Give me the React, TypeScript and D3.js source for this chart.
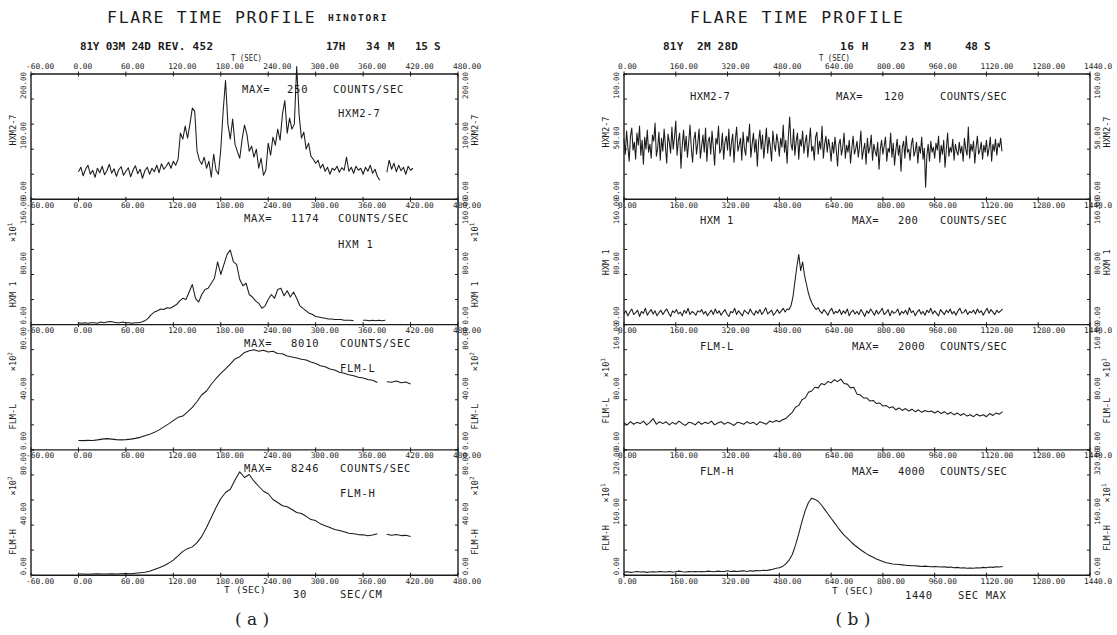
import React from "react";
import * as d3 from "d3";

const FONT = "'DejaVu Sans Mono','Liberation Mono',monospace";
const SERIF = "'DejaVu Serif','Liberation Serif',serif";
const INK = "#1b1b1b";

// ================= DATA : (a) 81Y 03M 24D  REV.452 =================
const A_X_TICKS = [-60, 0, 60, 120, 180, 240, 300, 360, 420, 480];
const A_X_LABELS = ["-60.00", "0.00", "60.00", "120.00", "180.00", "240.00", "300.00", "360.00", "420.00", "480.00"];
const A_NAMES = ["HXM2-7", "HXM 1", "FLM-L", "FLM-H"];
const A_MAX = ["250", "1174", "8010", "8246"];
const A_EXP = ["", "1", "2", "2"];
const A_Y_MAX = [250, 200, 100, 100];
const A_Y_STEP = [50, 40, 20, 20];
const A_Y_LABELS = [[0, 100, 200], [0, 80, 160], [0, 40, 80], [0, 40, 80]];

// HXM2-7, every 3 s from t = 0
const A_HXM27 = [
  55, 64, 47, 60, 68, 50, 58, 44, 62, 53,
  66, 49, 57, 70, 52, 61, 46, 59, 65, 48,
  56, 63, 45, 58, 67, 51, 60, 42, 57, 64,
  50, 62, 55, 68, 53, 71, 60, 66, 74, 62,
  76, 68, 80, 132, 120, 146, 122, 150, 182, 176,
  96, 78, 70, 84, 62, 76, 44, 90, 58, 50,
  100, 176, 237, 150, 120, 160, 110, 95, 82, 120,
  148, 130, 96, 106, 84, 100, 62, 82, 48, 58,
  112, 88, 124, 108, 140, 118, 170, 197, 132, 162,
  140, 150, 265, 170, 122, 134, 100, 112, 86, 80,
  72, 78, 62, 70, 56, 64, 50, 62, 58, 66,
  54, 63, 58, 84, 56, 64, 52, 66, 58, 62,
  50, 64, 56, 68, 52, 60, 46, 38, null, null,
  54, 78, 60, 72, 55, 68, 57, 64, 50, 66,
  58, 62,
];
// HXM 1 (x10), every 4 s from t = 0
const A_HXM1 = [
  3, 2, 3, 2, 3, 3, 2, 4, 3, 4,
  5, 4, 3, 3, 4, 3, 3, 2, 3, 3,
  4, 6, 10, 16, 20, 22, 25, 24, 27, 26,
  29, 32, 38, 42, 40, 52, 64, 42, 36, 48,
  56, 58, 66, 74, 100, 80, 96, 112, 119, 100,
  96, 72, 62, 66, 48, 44, 38, 34, 26, 30,
  40, 48, 42, 56, 58, 46, 54, 44, 52, 42,
  30, 26, 22, 18, 16, 13, 12, 11, 10, 9,
  9, 8, 8, 8, 7, 7, 7, 6, null, null,
  7, 7, 6, 7, 6, 7, 6, 7,
];
// FLM-L (x10^2), every 6 s from t = 0
const A_FLML = [
  7.5, 7.4, 7.6, 7.5, 8.0, 8.6, 9.0, 8.6, 8.2, 8.0,
  8.2, 8.6, 9.2, 10.0, 11.2, 12.4, 14.0, 16.0, 18.4, 20.8,
  23.4, 26.0, 27.0, 30.4, 34.0, 38.6, 44.0, 47.0, 52.4, 57.0,
  61.0, 64.6, 68.4, 72.6, 74.4, 77.8, 79.2, 80.0, 78.8, 79.6,
  78.2, 78.8, 77.0, 76.8, 75.0, 74.2, 73.4, 72.4, 71.8, 70.2,
  69.0, 67.2, 66.4, 64.6, 63.8, 62.0, 61.2, 60.0, 59.2, 58.0,
  57.4, 56.2, 55.6, 53.8, null, 54.4, 54.0, 55.0, 53.6, 54.2,
  52.6,
];
// FLM-H (x10^2), every 6 s from t = 0
const A_FLMH = [
  1.0, 1.0, 0.8, 1.0, 1.2, 1.0, 1.0, 1.2, 1.0, 1.2,
  1.4, 1.2, 1.6, 2.0, 2.4, 3.2, 4.6, 6.0, 7.6, 9.6,
  12.0, 15.4, 19.0, 21.2, 22.6, 26.0, 31.0, 38.0, 46.0, 54.0,
  61.0, 66.0, 68.6, 76.0, 82.5, 78.0, 80.4, 75.0, 71.0, 67.0,
  65.0, 60.4, 58.0, 55.4, 54.6, 52.4, 50.0, 49.2, 47.0, 44.4,
  43.6, 41.0, 39.4, 38.0, 36.4, 35.6, 34.6, 33.4, 33.0, 32.4,
  32.2, 31.4, 32.0, 33.0, null, 32.6, 31.8, 32.4, 31.6, 31.8,
  30.8,
];
const A_STEPS = [3, 4, 6, 6];

// ================= DATA : (b) 81Y 2M 28D =================
const B_X_TICKS = [0, 160, 320, 480, 640, 800, 960, 1120, 1280, 1440];
const B_X_LABELS = ["0.00", "160.00", "320.00", "480.00", "640.00", "800.00", "960.00", "1120.00", "1280.00", "1440.0"];
const B_NAMES = ["HXM2-7", "HXM 1", "FLM-L", "FLM-H"];
const B_MAX = ["120", "200", "2000", "4000"];
const B_EXP = ["", "", "1", "1"];
const B_Y_MAX = [125, 200, 200, 400];
const B_Y_STEP = [25, 40, 40, 80];
const B_Y_LABELS = [[0, 50, 100], [0, 80, 160], [0, 80, 160], [0, 160, 320]];

// HXM2-7, every 4 s from t = 0
const B_HXM27 = [
  60, 45, 68, 52, 38, 63, 71, 49, 57, 40, 66, 54, 73, 44, 59, 35, 62, 50, 69, 47,
  55, 41, 64, 58, 76, 43, 51, 67, 39, 61, 48, 70, 53, 36, 65, 57, 46, 72, 50, 62,
  78, 44, 59, 66, 31, 54, 69, 48, 63, 42, 57, 74, 51, 37, 60, 67, 45, 56, 70, 41,
  53, 64, 47, 71, 38, 58, 62, 45, 68, 52, 34, 61, 55, 73, 46, 50, 66, 40, 57, 63,
  49, 70, 43, 56, 65, 37, 59, 72, 48, 54, 61, 39, 67, 51, 44, 63, 57, 75, 42, 55,
  66, 47, 60, 33, 58, 69, 50, 64, 41, 56, 71, 46, 62, 53, 38, 68, 55, 48, 65, 57,
  43, 61, 52, 74, 47, 59, 36, 63, 82, 55, 49, 70, 44, 58, 66, 40, 60, 53, 68, 46,
  57, 64, 42, 56, 71, 48, 53, 39, 62, 67, 45, 58, 50, 73, 41, 55, 63, 47, 60, 52,
  38, 57, 46, 62, 49, 33, 55, 60, 44, 52, 66, 41, 54, 47, 59, 36, 51, 63, 45, 50,
  58, 42, 53, 68, 40, 49, 56, 35, 61, 46, 52, 64, 39, 55, 48, 43, 57, 30, 50, 59,
  45, 53, 62, 38, 51, 47, 66, 42, 56, 34, 49, 60, 44, 54, 28, 52, 58, 41, 63, 47,
  50, 39, 55, 61, 43, 48, 57, 36, 53, 46, 62, 40, 51, 12, 44, 55, 38, 58, 47, 52,
  41, 56, 49, 63, 37, 54, 45, 59, 32, 50, 66, 43, 52, 47, 60, 39, 55, 48, 44, 57,
  46, 53, 38, 61, 50, 44, 72, 41, 55, 48, 58, 36, 52, 63, 45, 49, 57, 40, 54, 47,
  59, 43, 51, 62, 38, 55, 48, 60, 44, 56, 52, 61, 48,
];
// HXM 1, every 6 s from t = 0
const B_HXM1 = [
  17, 22, 14, 20, 25, 16, 19, 23, 13, 21, 18, 26, 15, 20, 24, 17, 22, 14, 19, 23,
  16, 21, 25, 18, 13, 22, 19, 24, 17, 20, 14, 23, 18, 26, 16, 21, 19, 15, 22, 20,
  24, 17, 21, 14, 19, 23, 16, 25, 18, 22, 15, 20, 24, 17, 13, 21, 19, 26, 16, 22,
  18, 14, 23, 20, 17, 25, 19, 15, 22, 18, 24, 16, 21, 27, 17, 20, 23, 15, 19, 24,
  18, 22, 26, 20, 25, 24, 30, 44, 68, 92, 112, 86, 100, 78, 64, 50, 40, 33, 28, 24,
  27, 21, 18, 24, 20, 15, 22, 26, 17, 21, 19, 24, 16, 22, 18, 25, 14, 20, 23, 17,
  21, 16, 24, 19, 13, 22, 18, 25, 20, 15, 23, 17, 21, 26, 16, 19, 24, 14, 22, 18,
  20, 25, 15, 21, 18, 23, 16, 27, 19, 22, 14, 20, 24, 17, 21, 15, 23, 19, 26, 17,
  22, 18, 14, 24, 20, 16, 23, 19, 25, 17, 21, 15, 22, 26, 18, 20, 24, 16, 21, 19,
  23, 17, 25, 19, 22, 15, 21, 26, 18, 24, 20, 16, 23, 19, 22, 25,
];
// FLM-L (x10), every 10 s from t = 0
const B_FLML = [
  43, 40, 45, 41, 44, 42, 46, 40, 44, 50, 41, 45,
  42, 45, 40, 44, 41, 46, 42, 39, 44, 43, 40, 45,
  41, 44, 42, 46, 40, 43, 45, 41, 44, 42, 39, 44,
  43, 41, 45, 42, 44, 40, 45, 43, 41, 46, 44, 47,
  45, 48, 50, 55, 60, 68, 71, 80, 83, 92, 94, 100,
  99, 106, 104, 109, 107, 112, 109, 113, 106, 105, 99, 100,
  89, 88, 83, 83, 78, 79, 74, 75, 70, 71, 67, 69,
  64, 67, 63, 66, 62, 65, 61, 64, 60, 63, 61, 62,
  59, 62, 58, 61, 57, 60, 56, 59, 55, 58, 54, 56,
  53, 57, 54, 56, 53, 58, 55, 59, 57, 61,
];
// FLM-H (x10), every 10 s from t = 0
const B_FLMH = [
  10, 11, 9, 10, 12, 10, 11, 9, 10, 11, 10, 12,
  11, 10, 12, 10, 11, 13, 11, 10, 12, 11, 12, 11,
  12, 11, 13, 12, 11, 13, 12, 12, 14, 12, 13, 12,
  13, 14, 12, 14, 13, 15, 14, 16, 15, 17, 19, 22,
  24, 28, 36, 48, 66, 96, 132, 172, 206, 232, 246, 242,
  236, 224, 210, 196, 182, 168, 154, 140, 128, 118, 108, 98,
  90, 82, 75, 68, 62, 57, 52, 48, 44, 40, 38, 36,
  35, 34, 33, 32, 31, 30, 30, 29, 28, 29, 28, 27,
  28, 27, 26, 27, 25, 26, 24, 25, 23, 24, 22, 23,
  22, 24, 23, 25, 24, 26, 25, 27, 26, 28,
];
const B_STEPS = [4, 6, 10, 10];

// ================= LAYOUT =================
const ROW_TOP = 74;
const ROW_H = 125.3;

const A_CFG = {
  x0: 31, x1: 458, xDomain: [-60, 480], xTicks: A_X_TICKS, xLabels: A_X_LABELS, labelDx: -5,
  series: [A_HXM27, A_HXM1, A_FLML, A_FLMH], steps: A_STEPS,
  yMax: A_Y_MAX, yStep: A_Y_STEP, yLabels: A_Y_LABELS, names: A_NAMES, maxVals: A_MAX, exps: A_EXP,
  nameOff: [56, 95, 92, 92], expOff: [0, 33, 37, 36], annLs: 0.8,
  ann: {
    maxX: [242, 244, 244, 244], maxY: [93, 222, 347, 472],
    valX: [287, 291, 291, 291], countsX: [333, 338, 340, 340],
    nameX: [338, 338, 340, 340], nameY: [117, 248, 372, 497],
  },
};
const B_CFG = {
  x0: 624, x1: 1090, xDomain: [0, 1440], xTicks: B_X_TICKS, xLabels: B_X_LABELS, labelDx: -6,
  series: [B_HXM27, B_HXM1, B_FLML, B_FLMH], steps: B_STEPS,
  yMax: B_Y_MAX, yStep: B_Y_STEP, yLabels: B_Y_LABELS, names: B_NAMES, maxVals: B_MAX, exps: B_EXP,
  nameOff: [58, 63, 86, 88], expOff: [0, 0, 43, 43], annLs: 0.4,
  ann: {
    maxX: [836, 852, 852, 852], maxY: [100, 224, 350, 475],
    valX: [884, 898, 898, 898], countsX: [940, 940, 940, 940],
    nameX: [690, 700, 700, 700], nameY: [100, 224, 350, 475],
  },
};

function Rot({ x, y, children, size = 7.5, anchor = "start" as any }: any) {
  return (
    <text transform={`translate(${x},${y}) rotate(-90)`} fontSize={size} textAnchor={anchor} fill={INK}>
      {children}
    </text>
  );
}

function Figure({ cfg }: { cfg: any }) {
  const x = d3.scaleLinear().domain(cfg.xDomain).range([cfg.x0, cfg.x1]);
  const nodes: React.ReactNode[] = [];
  let k = 0;
  const key = () => `n${k++}`;
  const bottomAll = ROW_TOP + 4 * ROW_H;

  for (let r = 0; r <= 4; r++) {
    const yb = ROW_TOP + r * ROW_H;
    nodes.push(<line key={key()} x1={cfg.x0} x2={cfg.x1} y1={yb} y2={yb} stroke={INK} strokeWidth={1.4} />);
    cfg.xTicks.forEach((t: number, i: number) => {
      nodes.push(
        <line key={key()} x1={x(t)} x2={x(t)} y1={yb - 2.5} y2={yb + 2.5} stroke={INK} strokeWidth={1} />
      );
      const ly = r === 0 ? yb - 5 : yb + 8.5;
      nodes.push(
        <text key={key()} x={x(t) + cfg.labelDx} y={ly} fontSize={7.8} fill={INK}>
          {cfg.xLabels[i]}
        </text>
      );
    });
  }
  nodes.push(<line key={key()} x1={cfg.x0} x2={cfg.x0} y1={ROW_TOP} y2={bottomAll} stroke={INK} strokeWidth={1.4} />);
  nodes.push(<line key={key()} x1={cfg.x1} x2={cfg.x1} y1={ROW_TOP} y2={bottomAll} stroke={INK} strokeWidth={1.4} />);

  for (let r = 0; r < 4; r++) {
    const top = ROW_TOP + r * ROW_H;
    const bottom = top + ROW_H;
    const y = d3.scaleLinear().domain([0, cfg.yMax[r]]).range([bottom, top]);
    const step = cfg.steps[r];
    const pts: [number, number | null][] = cfg.series[r].map((v: number | null, i: number) => [i * step, v]);
    const line = d3
      .line<[number, number | null]>()
      .defined((d) => d[1] !== null)
      .x((d) => x(d[0]))
      .y((d) => y(d[1] as number));
    nodes.push(
      <path key={key()} d={line(pts) || ""} fill="none" stroke={INK} strokeWidth={1.05} strokeLinejoin="round" />
    );
    d3.range(0, cfg.yMax[r] + 1e-6, cfg.yStep[r]).forEach((v: number) => {
      nodes.push(<line key={key()} x1={cfg.x0} x2={cfg.x0 + 3} y1={y(v)} y2={y(v)} stroke={INK} strokeWidth={1} />);
      nodes.push(<line key={key()} x1={cfg.x1 - 3} x2={cfg.x1} y1={y(v)} y2={y(v)} stroke={INK} strokeWidth={1} />);
    });
    cfg.yLabels[r].forEach((v: number) => {
      nodes.push(<Rot key={key()} x={cfg.x0 - 5} y={y(v)}>{v.toFixed(2)}</Rot>);
      nodes.push(<Rot key={key()} x={cfg.x1 + 10} y={y(v)}>{v.toFixed(2)}</Rot>);
    });
    [cfg.x0 - 15, cfg.x1 + 20].forEach((ax: number) => {
      nodes.push(
        <Rot key={key()} x={ax} y={top + cfg.nameOff[r]} size={8.6} anchor="middle">
          {cfg.names[r]}
        </Rot>
      );
      if (cfg.exps[r]) {
        nodes.push(
          <Rot key={key()} x={ax} y={top + cfg.expOff[r]} size={8.6} anchor="middle">
            {"×10"}
            <tspan fontSize={6} dy={-4}>{cfg.exps[r]}</tspan>
          </Rot>
        );
      }
    });
    const a = cfg.ann;
    const ann = { fontSize: 10.5, letterSpacing: cfg.annLs, fill: INK } as any;
    nodes.push(<text key={key()} x={a.maxX[r]} y={a.maxY[r]} {...ann}>MAX=</text>);
    nodes.push(<text key={key()} x={a.valX[r]} y={a.maxY[r]} {...ann}>{cfg.maxVals[r]}</text>);
    nodes.push(<text key={key()} x={a.countsX[r]} y={a.maxY[r]} {...ann}>COUNTS/SEC</text>);
    nodes.push(<text key={key()} x={a.nameX[r]} y={a.nameY[r]} {...ann}>{cfg.names[r]}</text>);
  }
  return <g>{nodes}</g>;
}

export default function App() {
  const hdr = { fill: INK, fontWeight: 700, fontSize: 11 } as any;
  return (
    <svg
      width={1117}
      height={635}
      style={{ position: "absolute", left: 0, top: 0, background: "#fff" }}
      fontFamily={FONT}
    >
      <rect x={0} y={0} width={1117} height={635} fill="#fff" />
      {/* ---------- (a) headers ---------- */}
      <text x={107} y={23} fontSize={16.5} letterSpacing={1.7} fill={INK}>FLARE TIME PROFILE</text>
      <text x={328} y={21} letterSpacing={1.8} fill={INK} fontWeight={700} fontSize={9.5}>HINOTORI</text>
      <text x={80} y={50} letterSpacing={-0.2} {...hdr}>81Y 03M 24D</text>
      <text x={158} y={50} letterSpacing={0.3} {...hdr}>REV. 452</text>
      <text x={326} y={50} letterSpacing={-0.3} {...hdr}>17H</text>
      <text x={366} y={50} letterSpacing={0.6} {...hdr}>34 M</text>
      <text x={415} y={50} letterSpacing={-0.3} {...hdr}>15 S</text>
      <text x={231} y={61} fontSize={9} textLength={31} lengthAdjust="spacingAndGlyphs" fill={INK}>T (SEC)</text>
      <text x={224} y={593} fontSize={9.5} letterSpacing={0.3} fill={INK}>T (SEC)</text>
      <text x={293} y={598} fontSize={10.5} letterSpacing={0.8} fill={INK}>30</text>
      <text x={340} y={598} fontSize={10.5} letterSpacing={0.8} fill={INK}>SEC/CM</text>
      <text x={252} y={625} fontSize={17} fontFamily={SERIF} textAnchor="middle" fill="#222">( a )</text>

      {/* ---------- (b) headers ---------- */}
      <text x={690} y={23} fontSize={16.5} letterSpacing={2.0} fill={INK}>FLARE TIME PROFILE</text>
      <text x={663} y={50} letterSpacing={0.2} {...hdr} style={{ whiteSpace: "pre" }}>81Y  2M 28D</text>
      <text x={840} y={50} letterSpacing={0.6} {...hdr}>16 H</text>
      <text x={900} y={50} letterSpacing={1.5} {...hdr}>23 M</text>
      <text x={965} y={50} letterSpacing={-0.3} {...hdr}>48 S</text>
      <text x={819} y={61} fontSize={9} textLength={31} lengthAdjust="spacingAndGlyphs" fill={INK}>T (SEC)</text>
      <text x={832} y={594} fontSize={9.5} letterSpacing={0.3} fill={INK}>T (SEC)</text>
      <text x={905} y={599} fontSize={10.5} letterSpacing={0.6} fill={INK}>1440</text>
      <text x={958} y={599} fontSize={10.5} letterSpacing={0.6} fill={INK}>SEC MAX</text>
      <text x={853} y={625} fontSize={17} fontFamily={SERIF} textAnchor="middle" fill="#222">( b )</text>

      <Figure cfg={A_CFG} />
      <Figure cfg={B_CFG} />
    </svg>
  );
}
